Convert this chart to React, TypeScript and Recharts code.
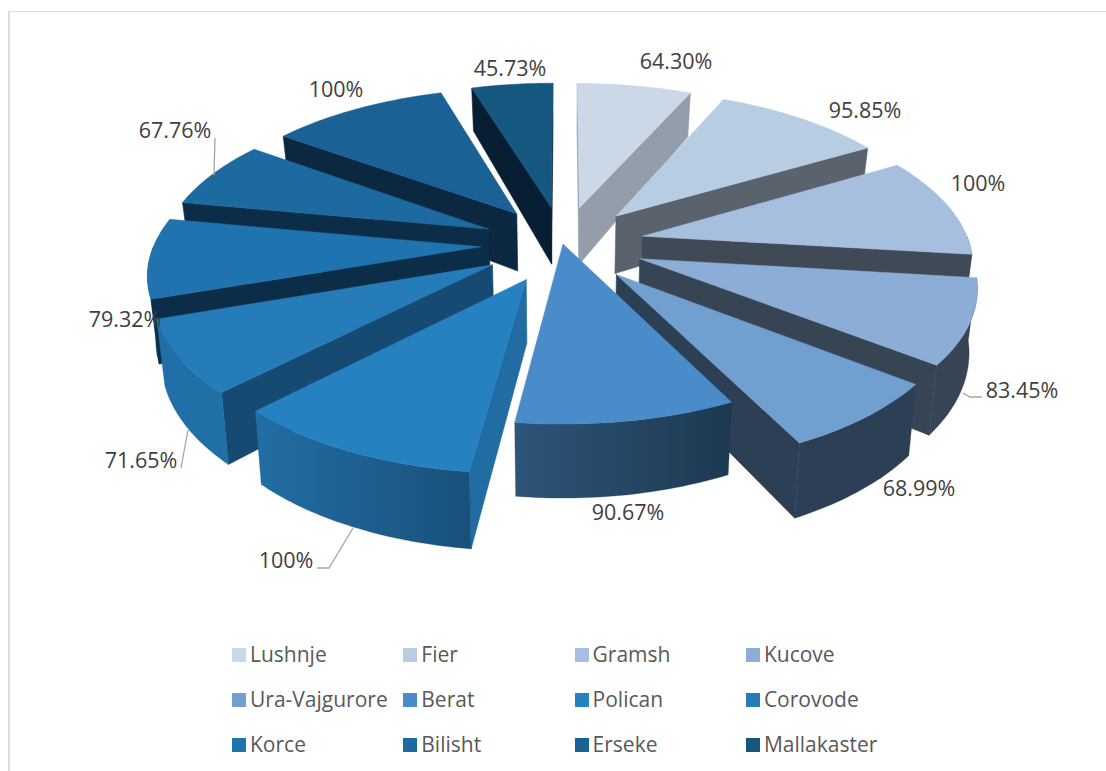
import { PieChart, Pie, Legend } from "recharts";

const districts = ["Lushnje", "Fier", "Gramsh", "Kucove", "Ura-Vajgurore", "Berat", "Polican", "Corovode", "Korce", "Bilisht", "Erseke", "Mallakaster"];
const shares = [64.3, 95.85, 100, 83.45, 68.99, 90.67, 100, 71.65, 79.32, 67.76, 100, 45.73];

const topColors = ["#cbd8e8", "#b8cce2", "#a7bfdf", "#8cadd6", "#719fd0", "#4a8cc9", "#2681c1", "#257cb9", "#1f73ae", "#1d6aa0", "#1a6295", "#15577f"];
const sideColors = ["#949eab", "#5a626d", "#404a57", "#364454", "#2d3f55", "#1e3c55", "#206ca3", "#164a73", "#0c2d47", "#0c2d47", "#0b2840", "#081f33"];
const rimFrom = ["#949eab", "#5a626d", "#404a57", "#364454", "#2d3f55", "#2f5479", "#226ea6", "#206fa8", "#0c2d47", "#0c2d47", "#0b2840", "#081f33"];
const rimTo = ["#949eab", "#5a626d", "#404a57", "#364454", "#2d3f55", "#1c3950", "#19507a", "#2070a6", "#0c2d47", "#0c2d47", "#0b2840", "#081f33"];
const explosion = [0.25, 0.25, 0.25, 0.25, 0.25, 0, 0.25, 0.25, 0.25, 0.25, 0.25, 0.25];

// back to front, so nearer walls cover farther ones
const wallOrder = [0, 11, 10, 1, 9, 2, 8, 3, 7, 4, 6, 5];

const labelSpots = [
  [676, 69], [865, 118], [978, 191], [1022, 398], [919, 496], [628, 520],
  [286, 568], [141, 468], [125, 327], [175, 138], [336, 97], [510, 76],
];
const leaders: Record<number, string> = {
  3: "963,393 970,397 982,397",
  6: "353,528 329,568 317,568",
  7: "188,430 181,468",
  9: "215,138 214,175",
};

const pieData = districts.map((name, i) => ({ name, value: shares[i], fill: topColors[i] }));

const SQUASH = 0.468;
const PERSPECTIVE = 0.15;
const FONT = "'Open Sans', sans-serif";

const rad = (deg: number) => (deg * Math.PI) / 180;

function geometry(props: any) {
  const { cx, cy, outerRadius: R, startAngle, endAngle, name } = props;
  const idx = districts.indexOf(name);
  const t1 = 90 - startAngle;
  const t2 = 90 - endAngle;
  const mid = (t1 + t2) / 2;
  const ex = explosion[idx] * Math.sin(rad(mid));
  const ey = explosion[idx] * Math.cos(rad(mid));
  const project = (u: number, v: number) => {
    const w = 1 + PERSPECTIVE * (v + ey);
    return { x: cx + (R * (u + ex)) / w, y: cy - (R * SQUASH * (v + ey)) / w, v: v + ey };
  };
  const drop = (p: any) => ({ x: cx + (p.x - cx) * 0.98, y: p.y + 60 - 14 * p.v, v: p.v });
  const arc = (a: number, b: number) => {
    const pts = [];
    const n = Math.max(1, Math.ceil(Math.abs(b - a)));
    for (let k = 0; k <= n; k++) {
      const t = rad(a + ((b - a) * k) / n);
      pts.push(project(Math.sin(t), Math.cos(t)));
    }
    return pts;
  };
  return { idx, t1, t2, project, drop, arc };
}

const toPath = (pts: any[]) => "M" + pts.map((p) => `${p.x.toFixed(1)},${p.y.toFixed(1)}`).join("L") + "Z";

function SliceTop(props: any) {
  const { idx, t1, t2, project, arc } = geometry(props);
  return <path d={toPath([project(0, 0), ...arc(t1, t2)])} fill={topColors[idx]} stroke={topColors[idx]} strokeWidth={0.5} />;
}

function SliceWall(props: any) {
  const { idx, t1, t2, project, drop, arc } = geometry(props);
  const apex = project(0, 0);
  const face = (t: number) => {
    const p = project(Math.sin(rad(t)), Math.cos(rad(t)));
    return toPath([apex, p, drop(p), drop(apex)]);
  };
  // the part of the rim that faces the viewer
  const from = Math.max(t1, 90);
  const to = Math.min(t2, 270);
  const rim = to > from ? arc(from, to) : [];
  const gradId = `rim-${idx}`;
  return (
    <g>
      <defs>
        <linearGradient id={gradId} x1="0" x2="1" y1="0" y2="0">
          <stop offset="0" stopColor={rimFrom[idx]} />
          <stop offset="1" stopColor={rimTo[idx]} />
        </linearGradient>
      </defs>
      {Math.sin(rad(t1)) < 0.02 && <path d={face(t1)} fill={sideColors[idx]} stroke={sideColors[idx]} strokeWidth={0.6} />}
      {Math.sin(rad(t2)) > -0.02 && <path d={face(t2)} fill={sideColors[idx]} stroke={sideColors[idx]} strokeWidth={0.6} />}
      {rim.length > 0 && <path d={toPath([...rim, ...rim.map(drop).reverse()])} fill={`url(#${gradId})`} stroke={rimTo[idx]} strokeWidth={0.3} />}
    </g>
  );
}

function renderLabel(props: any) {
  const i = props.index;
  const v = shares[i];
  const [x, y] = labelSpots[i];
  return (
    <g key={i}>
      {leaders[i] && <polyline points={leaders[i]} fill="none" stroke="#a6a6a6" strokeWidth={1.3} />}
      <text x={x} y={y} textAnchor="middle" fontFamily={FONT} fontSize={21.5} fill="#404040">
        {v === 100 ? "100%" : `${v.toFixed(2)}%`}
      </text>
    </g>
  );
}

function LegendBlock({ payload }: any) {
  // every wall pie reports its items too, keep one of each
  const items = districts.map((name) => (payload || []).find((p: any) => p.value === name)).filter(Boolean);
  return (
    <div style={{ display: "grid", gridTemplateColumns: "repeat(4, 171.3px)", gridAutoRows: "45px", fontFamily: FONT, fontSize: 21, color: "#595959" }}>
      {items.map((item: any) => (
        <div key={item.value} style={{ display: "flex", alignItems: "center", height: 28, whiteSpace: "nowrap" }}>
          <span style={{ width: 14, height: 14, background: item.color, marginRight: 4, flex: "none" }} />
          <span style={{ position: "relative", top: -1 }}>{item.value}</span>
        </div>
      ))}
    </div>
  );
}

export default function App() {
  return (
    <div style={{ position: "absolute", left: 0, top: 0, width: 1106, height: 771, background: "#fff", overflow: "hidden" }}>
      <div style={{ position: "absolute", left: 8, top: 11, width: 1098, height: 760, borderLeft: "2px solid #dcdcdc", borderTop: "1.5px solid #dcdcdc", boxSizing: "border-box" }} />
      <PieChart width={1106} height={771} margin={{ top: 0, right: 0, bottom: 0, left: 0 }} style={{ position: "absolute", left: 0, top: 0 }}>
        {wallOrder.map((i) => (
          <Pie
            key={districts[i]}
            data={pieData}
            dataKey="value"
            nameKey="name"
            cx={563}
            cy={244}
            outerRadius={327}
            startAngle={90}
            endAngle={-270}
            stroke="none"
            legendType="none"
            isAnimationActive={false}
            shape={(p: any) => (p.name === districts[i] ? <SliceWall {...p} /> : <g />)}
          />
        ))}
        <Pie
          data={pieData}
          dataKey="value"
          nameKey="name"
          cx={563}
          cy={244}
          outerRadius={327}
          startAngle={90}
          endAngle={-270}
          stroke="none"
          isAnimationActive={false}
          shape={(p: any) => <SliceTop {...p} />}
          label={renderLabel}
          labelLine={false}
        />
        <Legend content={<LegendBlock />} itemSorter={null} wrapperStyle={{ left: 232, top: 641, width: 700, bottom: "auto" }} />
      </PieChart>
    </div>
  );
}
